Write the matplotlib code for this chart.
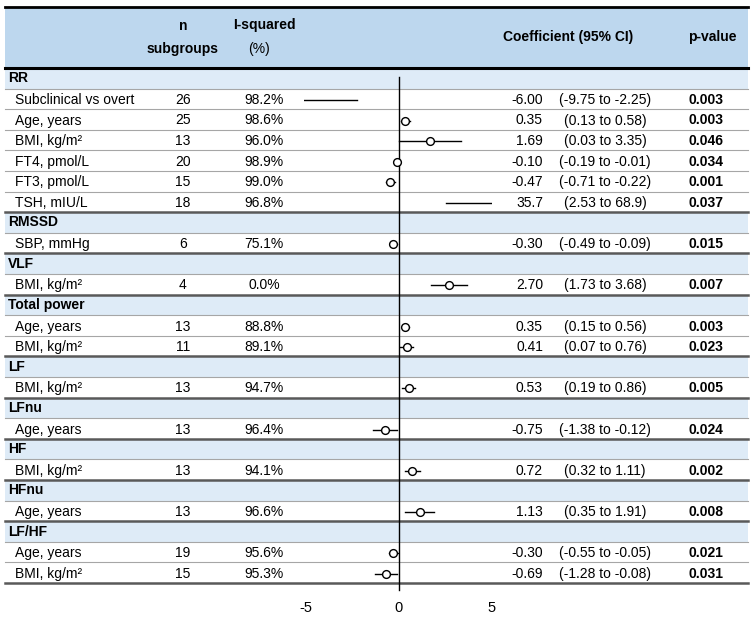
import matplotlib
matplotlib.use("Agg")
import matplotlib.pyplot as plt

plt.rcParams['font.family'] = ['Liberation Sans', 'DejaVu Sans']

# data
groups = ['RR', 'RMSSD', 'VLF', 'Total power', 'LF', 'LFnu', 'HF', 'HFnu', 'LF/HF']
group_sizes = [6, 1, 1, 2, 1, 1, 1, 1, 2]
labels = ['Subclinical vs overt', 'Age, years', 'BMI, kg/m²', 'FT4, pmol/L', 'FT3, pmol/L', 'TSH, mIU/L',
          'SBP, mmHg', 'BMI, kg/m²', 'Age, years', 'BMI, kg/m²', 'BMI, kg/m²', 'Age, years',
          'BMI, kg/m²', 'Age, years', 'Age, years', 'BMI, kg/m²']
n_sub = [26, 25, 13, 20, 15, 18, 6, 4, 13, 11, 13, 13, 13, 13, 19, 15]
i2 = [98.2, 98.6, 96.0, 98.9, 99.0, 96.8, 75.1, 0.0, 88.8, 89.1, 94.7, 96.4, 94.1, 96.6, 95.6, 95.3]
coef = [-6.00, 0.35, 1.69, -0.10, -0.47, 35.7, -0.30, 2.70, 0.35, 0.41, 0.53, -0.75, 0.72, 1.13, -0.30, -0.69]
lo = [-9.75, 0.13, 0.03, -0.19, -0.71, 2.53, -0.49, 1.73, 0.15, 0.07, 0.19, -1.38, 0.32, 0.35, -0.55, -1.28]
hi = [-2.25, 0.58, 3.35, -0.01, -0.22, 68.9, -0.09, 3.68, 0.56, 0.76, 0.86, -0.12, 1.11, 1.91, -0.05, -0.08]
pval = ['0.003', '0.003', '0.046', '0.034', '0.001', '0.037', '0.015', '0.007', '0.003', '0.023',
        '0.005', '0.024', '0.002', '0.008', '0.021', '0.031']
xticks = [-5, 0, 5]


def fmt(v):
    if abs(v) >= 10:
        return f"{v:.3g}"
    return f"{v:.2f}"


W, H = 753, 617
fig = plt.figure(figsize=(W / 100, H / 100), dpi=100)
tab = fig.add_axes([0, 0, 1, 1])
tab.set_xlim(0, W)
tab.set_ylim(H, 0)
tab.axis('off')

x0, x1 = 5, 748
head_top, head_bot = 7, 68
row_h = 20.6
fs = 10

hdr_fill = '#bdd7ee'
grp_fill = '#deebf7'

# header
tab.fill_between([x0, x1], head_top, head_bot, color=hdr_fill, lw=0, zorder=0)
tab.plot([x0, x1], [head_top, head_top], color='black', lw=2, zorder=3)
tab.plot([x0, x1], [head_bot, head_bot], color='black', lw=2.2, zorder=3)
tab.text(183, 26, 'n', ha='center', va='center', fontsize=fs, fontweight='bold')
tab.text(183, 49, 'subgroups', ha='center', va='center', fontsize=fs, fontweight='bold')
tab.text(264, 25, 'I-squared', ha='center', va='center', fontsize=fs, fontweight='bold')
tab.text(259, 49, '(%)', ha='center', va='center', fontsize=fs)
tab.text(568, 37, 'Coefficient (95% CI)', ha='center', va='center', fontsize=fs, fontweight='bold')
tab.text(712, 37, 'p-value', ha='center', va='center', fontsize=fs, fontweight='bold')

# body rows
row = 0
k = 0
item_rows = []
for g, size in zip(groups, group_sizes):
    y = head_bot + row * row_h
    tab.fill_between([x0, x1], y, y + row_h, color=grp_fill, lw=0, zorder=0)
    tab.text(8, y + row_h / 2, g, ha='left', va='center', fontsize=fs, fontweight='bold')
    row += 1
    for j in range(size):
        y = head_bot + row * row_h
        tab.plot([x0, x1], [y, y], color='#a6a6a6', lw=0.8, zorder=2)
        yc = y + row_h / 2 + 1
        tab.text(15, yc, labels[k], ha='left', va='center', fontsize=fs)
        tab.text(183, yc, str(n_sub[k]), ha='center', va='center', fontsize=fs)
        tab.text(264, yc, f"{i2[k]:.1f}%", ha='center', va='center', fontsize=fs)
        tab.text(543, yc, fmt(coef[k]), ha='right', va='center', fontsize=fs)
        tab.text(605, yc, f"({fmt(lo[k])} to {fmt(hi[k])})", ha='center', va='center', fontsize=fs)
        tab.text(706, yc, pval[k], ha='center', va='center', fontsize=fs, fontweight='bold')
        item_rows.append(row)
        row += 1
        k += 1
    y = head_bot + row * row_h
    tab.plot([x0, x1], [y, y], color='#595959', lw=1.8, zorder=3)

n_rows = row
body_bot = head_bot + n_rows * row_h

# forest panel
fx0, fx1 = 304, 492
ax = fig.add_axes([fx0 / W, (H - body_bot) / H, (fx1 - fx0) / W, (body_bot - head_bot) / H])
ax.patch.set_alpha(0)
ax.set_xlim(-5.1, 5.0)
ax.set_ylim(n_rows, 0)
for r, c, l, h in zip(item_rows, coef, lo, hi):
    ax.plot([l, h], [r + 0.55, r + 0.55], color='black', lw=1, zorder=3)
    ax.plot([c], [r + 0.55], marker='o', ms=5.6, mfc='white', mec='black', mew=1, zorder=4)
ax.plot([0, 0], [0.45, n_rows + 0.35], color='black', lw=1, clip_on=False, zorder=2)
for s in ax.spines.values():
    s.set_visible(False)
ax.set_yticks([])
ax.set_xticks(xticks)
ax.set_xticklabels([str(t) for t in xticks], fontsize=fs + 0.5)
ax.tick_params(axis='x', length=0, pad=13)

fig.savefig('out.png', dpi=100)
